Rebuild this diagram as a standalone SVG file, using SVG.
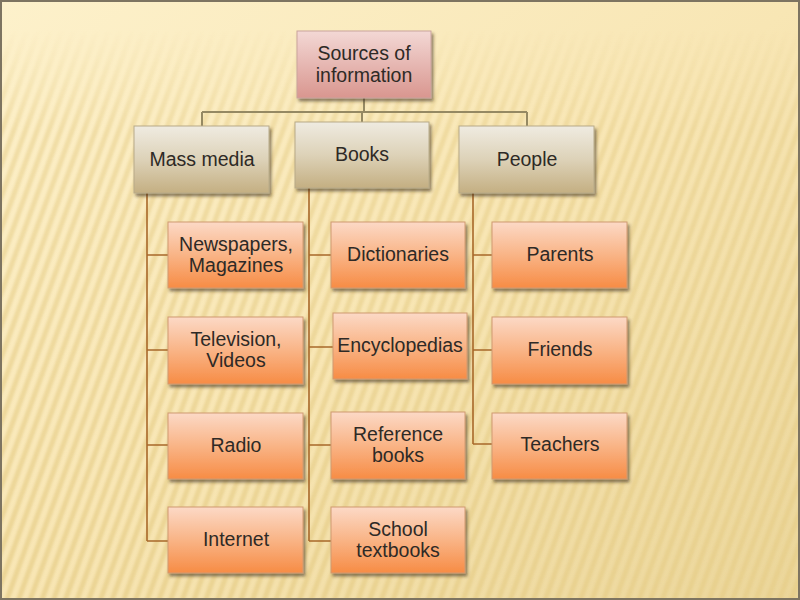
<svg xmlns="http://www.w3.org/2000/svg" width="800" height="600" viewBox="0 0 800 600">
<defs>
<linearGradient id="bg" x1="0" y1="0" x2="1" y2="1">
<stop offset="0" stop-color="#FDF1CB"/>
<stop offset="0.5" stop-color="#F8E6B4"/>
<stop offset="1" stop-color="#EBD69A"/>
</linearGradient>
<pattern id="stripes" width="11" height="11" patternUnits="userSpaceOnUse" patternTransform="rotate(20)">
<rect x="0" y="0" width="5" height="11" fill="#E6CD88"/>
</pattern>
<linearGradient id="fade" x1="0" y1="0" x2="0" y2="1">
<stop offset="0.05" stop-color="#fff" stop-opacity="0"/>
<stop offset="0.22" stop-color="#fff" stop-opacity="0.5"/>
<stop offset="1" stop-color="#fff" stop-opacity="0.7"/>
</linearGradient>
<mask id="m"><rect width="800" height="600" fill="url(#fade)"/></mask>
<filter id="soft"><feGaussianBlur stdDeviation="0.9"/></filter>
<linearGradient id="gRoot" x1="0" y1="0" x2="0" y2="1">
<stop offset="0" stop-color="#F3D8D5"/>
<stop offset="1" stop-color="#D9968F"/>
</linearGradient>
<linearGradient id="gMid" x1="0" y1="0" x2="0" y2="1">
<stop offset="0" stop-color="#EFEBE1"/>
<stop offset="0.5" stop-color="#DDD2B8"/>
<stop offset="1" stop-color="#C4AF82"/>
</linearGradient>
<linearGradient id="gLeaf" x1="0" y1="0" x2="0" y2="1">
<stop offset="0" stop-color="#FCD9C6"/>
<stop offset="0.5" stop-color="#F9B486"/>
<stop offset="1" stop-color="#F78C45"/>
</linearGradient>
<filter id="sh" x="-10%" y="-10%" width="125%" height="135%">
<feDropShadow dx="2" dy="3" stdDeviation="1.6" flood-color="#3a2a10" flood-opacity="0.55"/>
</filter>
</defs>
<style>
.root{fill:url(#gRoot);stroke:#C9A39C;stroke-width:1;filter:url(#sh)}
.mid{fill:url(#gMid);stroke:#B8AA88;stroke-width:1;filter:url(#sh)}
.leaf{fill:url(#gLeaf);stroke:#D09A70;stroke-width:1;filter:url(#sh)}
text{font-family:"Liberation Sans",Arial,sans-serif;font-size:19.5px;fill:#2E2A26;text-anchor:middle}
.c1{fill:none;stroke:#958963;stroke-width:2}
.c2{fill:none;stroke:#A8682A;stroke-width:1.6}
</style>
<rect width="800" height="600" fill="url(#bg)"/>
<g mask="url(#m)"><rect width="800" height="600" fill="url(#stripes)" filter="url(#soft)"/></g>
<rect x="1" y="1" width="798" height="598" fill="none" stroke="#7D7461" stroke-width="2"/>
<g id="connectors">
<path class="c1" d="M364 98V112M202 112H527M202 112V126M362 112V122M527 112V126"/>
<path class="c2" d="M147 193V541M147 255H168M147 350H168M147 445H168M147 541H168"/>
<path class="c2" d="M309 188V541M309 255H331M309 347H333M309 445H331M309 541H331"/>
<path class="c2" d="M473 193V444M473 255H492M473 350H492M473 444H492"/>
</g>
<g id="root"><rect class="root" x="297" y="31" width="134" height="67"/><text x="364" y="60">Sources of</text><text x="364" y="82">information</text></g>
<g id="mass-media"><rect class="mid" x="134" y="126" width="135" height="67"/><text x="202" y="166">Mass media</text></g>
<g id="books"><rect class="mid" x="295" y="122" width="134" height="66"/><text x="362" y="161">Books</text></g>
<g id="people"><rect class="mid" x="459" y="126" width="135" height="67"/><text x="527" y="166">People</text></g>
<g id="newspapers"><rect class="leaf" x="168" y="222" width="135" height="66"/><text x="236" y="251">Newspapers,</text><text x="236" y="272">Magazines</text></g>
<g id="television"><rect class="leaf" x="168" y="317" width="135" height="67"/><text x="236" y="346">Television,</text><text x="236" y="367">Videos</text></g>
<g id="radio"><rect class="leaf" x="168" y="413" width="135" height="66"/><text x="236" y="452">Radio</text></g>
<g id="internet"><rect class="leaf" x="168" y="507" width="135" height="66"/><text x="236" y="546">Internet</text></g>
<g id="dictionaries"><rect class="leaf" x="331" y="222" width="134" height="66"/><text x="398" y="261">Dictionaries</text></g>
<g id="encyclopedias"><rect class="leaf" x="333" y="313" width="134" height="66"/><text x="400" y="352">Encyclopedias</text></g>
<g id="reference-books"><rect class="leaf" x="331" y="412" width="134" height="67"/><text x="398" y="441">Reference</text><text x="398" y="462">books</text></g>
<g id="school-textbooks"><rect class="leaf" x="331" y="507" width="134" height="66"/><text x="398" y="536">School</text><text x="398" y="557">textbooks</text></g>
<g id="parents"><rect class="leaf" x="492" y="222" width="135" height="66"/><text x="560" y="261">Parents</text></g>
<g id="friends"><rect class="leaf" x="492" y="317" width="135" height="67"/><text x="560" y="356">Friends</text></g>
<g id="teachers"><rect class="leaf" x="492" y="413" width="135" height="66"/><text x="560" y="451">Teachers</text></g>
</svg>
